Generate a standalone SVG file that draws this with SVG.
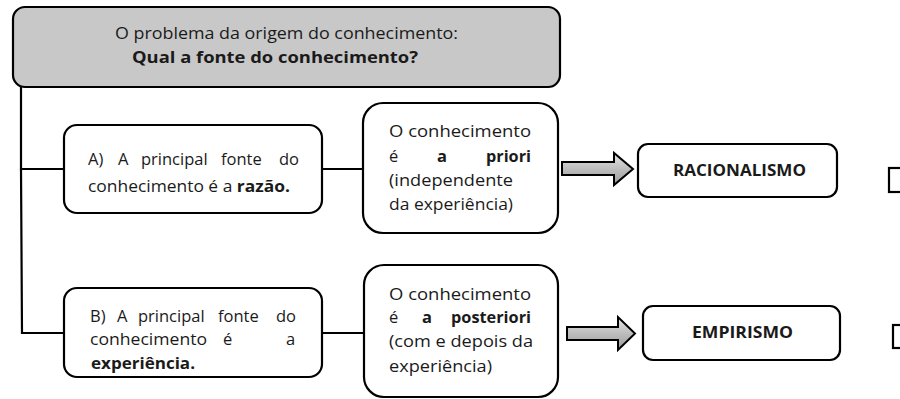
<svg xmlns="http://www.w3.org/2000/svg" width="900" height="399" viewBox="0 0 900 399">
<defs>
<linearGradient id="g" x1="0" y1="0" x2="0" y2="1">
<stop offset="0" stop-color="#e6e6e6"/>
<stop offset="0.5" stop-color="#bdbdbd"/>
<stop offset="1" stop-color="#9a9a9a"/>
</linearGradient>
<style>
.box{fill:#fff;stroke:#000;stroke-width:2.2}
.title{fill:#c8c8c8;stroke:#000;stroke-width:2.2}
.t{font-family:"Open Sans","Liberation Sans",sans-serif;font-size:16.5px;fill:#1a1a1a}
.b{font-weight:bold}
.ln{fill:none;stroke:#000;stroke-width:2.2}
.arr{fill:url(#g);stroke:#000;stroke-width:2}
</style>
</defs>
<g id="connectors">
<polyline class="ln" points="21,87 21,169 64,169"/>
<polyline class="ln" points="21,169 22,333 64,333"/>
<line class="ln" x1="322" y1="169" x2="363" y2="169"/>
<line class="ln" x1="322" y1="333" x2="364" y2="333"/>
<path class="arr" d="M562,162 H614 V153 L633,169 L614,185 V175 H562 Z"/>
<path class="arr" d="M567,327 H618 V317 L635,333.5 L618,350 V340 H567 Z"/>
</g>
<g id="title">
<rect class="title" x="13" y="7" width="547" height="80" rx="12"/>
<text class="t" x="115" y="39" textLength="343" lengthAdjust="spacingAndGlyphs">O problema da origem do conhecimento:</text>
<text class="t b" x="132" y="63" textLength="286" lengthAdjust="spacingAndGlyphs">Qual a fonte do conhecimento?</text>
</g>
<g id="nodeA">
<rect class="box" x="64" y="125" width="258" height="88" rx="13"/>
<text class="t" x="88" y="165">A)</text>
<text class="t" x="118" y="165">A</text>
<text class="t" x="141" y="165">principal</text>
<text class="t" x="221" y="165">fonte</text>
<text class="t" x="279" y="165">do</text>
<text class="t" x="88" y="192" textLength="202" lengthAdjust="spacingAndGlyphs">conhecimento é a <tspan class="b">razão.</tspan></text>
</g>
<g id="priori">
<rect class="box" x="363" y="103" width="195" height="130" rx="20"/>
<text class="t" x="389" y="137" textLength="142" lengthAdjust="spacingAndGlyphs">O conhecimento</text>
<text class="t" x="389" y="162">é</text>
<text class="t b" x="437" y="162">a</text>
<text class="t b" x="486" y="162" textLength="45" lengthAdjust="spacingAndGlyphs">priori</text>
<text class="t" x="389" y="186" textLength="124" lengthAdjust="spacingAndGlyphs">(independente</text>
<text class="t" x="389" y="210" textLength="124" lengthAdjust="spacingAndGlyphs">da experiência)</text>
</g>
<g id="racionalismo">
<rect class="box" x="638" y="144" width="199" height="53" rx="10"/>
<text class="t b" x="673" y="176" textLength="133" lengthAdjust="spacingAndGlyphs">RACIONALISMO</text>
</g>
<g id="nodeB">
<rect class="box" x="64" y="288" width="258" height="89" rx="13"/>
<text class="t" x="90" y="322">B)</text>
<text class="t" x="117" y="322">A</text>
<text class="t" x="138" y="322">principal</text>
<text class="t" x="218" y="322">fonte</text>
<text class="t" x="276" y="322">do</text>
<text class="t" x="90" y="345" textLength="117" lengthAdjust="spacingAndGlyphs">conhecimento</text>
<text class="t" x="223" y="345">é</text>
<text class="t" x="286" y="345">a</text>
<text class="t b" x="91" y="369" textLength="104" lengthAdjust="spacingAndGlyphs">experiência.</text>
</g>
<g id="posteriori">
<rect class="box" x="364" y="265" width="194" height="132" rx="20"/>
<text class="t" x="389" y="300" textLength="142" lengthAdjust="spacingAndGlyphs">O conhecimento</text>
<text class="t" x="389" y="323">é</text>
<text class="t b" x="422" y="323">a</text>
<text class="t b" x="451" y="323" textLength="80" lengthAdjust="spacingAndGlyphs">posteriori</text>
<text class="t" x="389" y="347" textLength="144" lengthAdjust="spacingAndGlyphs">(com e depois da</text>
<text class="t" x="389" y="372" textLength="103" lengthAdjust="spacingAndGlyphs">experiência)</text>
</g>
<g id="empirismo">
<rect class="box" x="643" y="306" width="197" height="54" rx="10"/>
<text class="t b" x="692" y="338" textLength="101" lengthAdjust="spacingAndGlyphs">EMPIRISMO</text>
</g>
<g id="marks">
<rect class="box" x="889" y="168" width="20" height="24"/>
<rect class="box" x="893" y="325" width="16" height="23"/>
</g>
</svg>
